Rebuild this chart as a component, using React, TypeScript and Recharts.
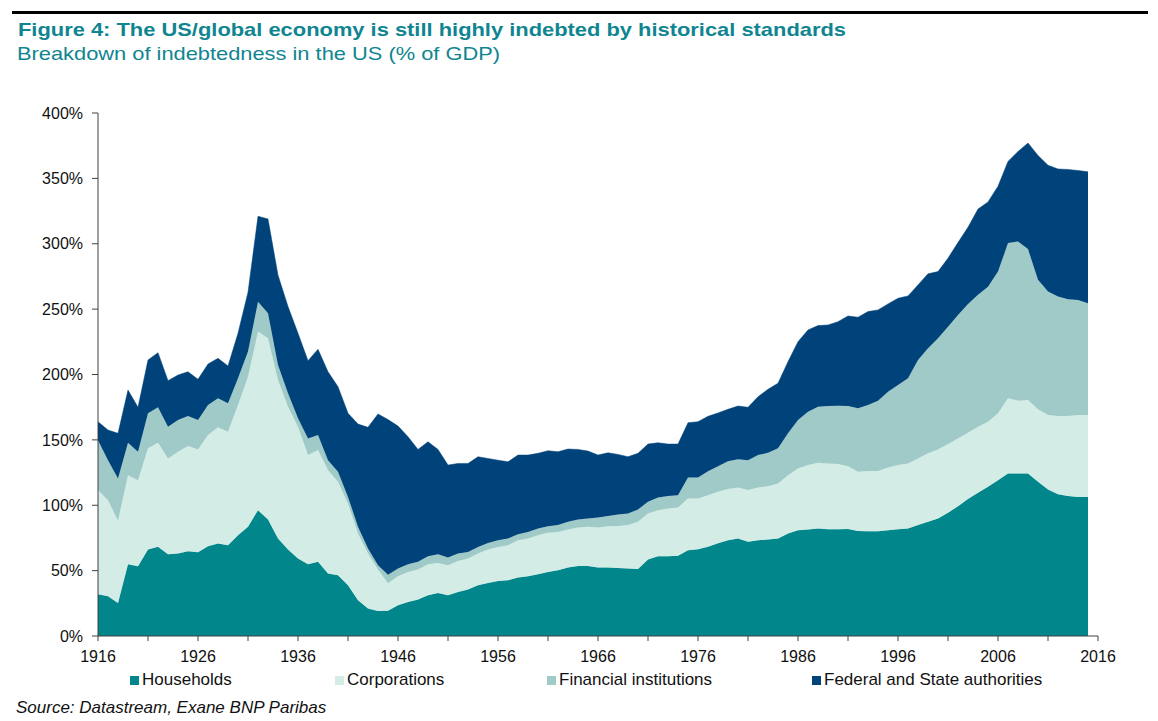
import React from 'react';
import { AreaChart, Area, XAxis, YAxis } from 'recharts';

// Values (% of GDP), one per year from 1916 to 2015
const households = [
  31.9, 30.4, 25.3, 54.9, 53.4, 66.1, 68.2, 62.6, 63.1, 64.9,
  64.1, 68.7, 70.7, 69.4, 77.1, 83.5, 96.2, 89.1, 74.6, 66.1,
  59.2, 54.9, 56.7, 47.8, 46.5, 38.8, 27.3, 21.0, 19.1, 19.4,
  23.5, 26.0, 27.9, 31.2, 32.9, 31.2, 33.7, 35.5, 38.8, 40.6,
  42.1, 42.6, 44.7, 45.7, 47.2, 49.0, 50.3, 52.4, 53.6, 53.6,
  52.4, 52.4, 52.1, 51.6, 51.3, 58.5, 61.0, 61.0, 61.3, 65.6,
  66.4, 68.2, 71.0, 73.2, 74.6, 72.0, 73.3, 73.8, 74.6, 78.4,
  80.9, 81.5, 82.2, 81.7, 81.7, 81.9, 80.4, 80.2, 80.2, 80.9,
  81.7, 82.2, 84.8, 87.3, 89.9, 94.2, 99.3, 104.7, 109.5, 114.1,
  119.2, 124.3, 124.3, 124.3, 117.9, 112.1, 108.5, 107.0, 106.4, 106.4,
];
const corporations = [
  79.7, 73.5, 62.8, 68.1, 65.8, 77.4, 79.6, 73.2, 77.8, 80.4,
  78.6, 85.0, 88.9, 86.8, 99.5, 114.8, 136.6, 138.6, 121.2, 109.2,
  100.8, 83.5, 85.5, 79.1, 71.4, 62.6, 51.1, 42.1, 31.7, 21.0,
  22.2, 23.0, 22.9, 23.7, 23.0, 22.9, 23.7, 23.8, 24.3, 25.6,
  26.0, 26.8, 28.6, 28.9, 29.9, 29.9, 29.3, 29.1, 29.4, 29.9,
  30.6, 31.6, 32.1, 33.2, 36.0, 35.2, 35.2, 36.5, 37.0, 39.6,
  38.8, 39.5, 39.3, 39.3, 39.0, 39.6, 40.3, 40.8, 42.1, 44.6,
  47.3, 49.2, 50.3, 50.3, 49.8, 48.0, 45.2, 45.9, 45.9, 48.0,
  49.0, 49.8, 51.0, 52.4, 52.8, 52.6, 51.8, 50.7, 50.5, 49.8,
  51.1, 57.5, 55.6, 56.2, 55.5, 56.9, 59.7, 61.2, 62.6, 62.6,
];
const financial = [
  38.2, 30.6, 32.4, 24.8, 21.7, 26.8, 27.1, 24.2, 24.3, 22.9,
  22.5, 22.9, 22.2, 21.8, 20.5, 19.2, 22.9, 19.2, 11.5, 10.3,
  6.5, 12.7, 11.5, 7.6, 7.7, 5.0, 5.1, 3.8, 3.3, 6.4,
  5.9, 5.9, 5.9, 6.1, 6.7, 5.9, 5.7, 5.0, 5.0, 5.0,
  5.2, 5.2, 4.6, 5.0, 5.1, 5.1, 5.2, 5.8, 6.1, 6.4,
  7.7, 7.7, 8.8, 8.9, 9.5, 8.9, 9.8, 9.5, 9.4, 16.1,
  16.1, 18.3, 19.5, 21.1, 21.5, 22.9, 24.8, 25.5, 26.8, 32.0,
  37.0, 40.8, 42.8, 43.9, 44.6, 46.0, 48.5, 50.5, 53.8, 57.9,
  61.3, 65.1, 75.3, 80.4, 85.0, 89.8, 94.5, 98.6, 100.9, 103.3,
  108.4, 118.7, 121.8, 115.4, 99.0, 94.4, 91.4, 89.4, 88.0, 85.5,
];
const federal = [
  14.1, 23.0, 34.5, 40.3, 34.0, 40.8, 41.8, 35.3, 34.4, 33.9,
  31.1, 31.4, 30.6, 28.5, 34.4, 45.5, 65.3, 72.1, 68.7, 66.4,
  65.0, 59.5, 65.6, 67.6, 65.1, 63.9, 78.6, 92.7, 115.7, 118.7,
  109.0, 97.5, 86.0, 87.5, 80.1, 70.7, 68.9, 67.7, 69.0, 64.6,
  61.2, 58.6, 60.5, 58.8, 57.5, 57.7, 56.1, 55.7, 53.6, 51.5,
  47.7, 48.4, 45.9, 43.4, 42.9, 44.2, 41.8, 39.8, 39.1, 41.8,
  42.6, 42.0, 40.8, 39.8, 40.8, 40.4, 44.6, 48.6, 49.8, 54.8,
  59.9, 62.6, 62.1, 62.0, 64.3, 68.9, 69.7, 71.5, 69.5, 67.2,
  66.3, 63.0, 57.4, 56.9, 51.0, 52.4, 55.3, 58.7, 65.6, 64.8,
  65.3, 62.5, 68.8, 81.1, 95.1, 96.6, 97.6, 99.2, 99.0, 100.5,
];
const years = households.map((_, i) => 1916 + i);

const xTicks = [1916, 1921, 1926, 1931, 1936, 1941, 1946, 1951, 1956, 1961, 1966,
  1971, 1976, 1981, 1986, 1991, 1996, 2001, 2006, 2011, 2016];
const xLabelTicks = [1916, 1926, 1936, 1946, 1956, 1966, 1976, 1986, 1996, 2006, 2016];
const yTicks = [0, 50, 100, 150, 200, 250, 300, 350, 400];

const seriesKeys = ['households', 'corporations', 'financial', 'federal'];
const seriesNames = ['Households', 'Corporations', 'Financial institutions', 'Federal and State authorities'];
const seriesColors = ['#00868B', '#D3EDE6', '#A0CAC7', '#00427A'];

const titleText = 'Figure 4: The US/global economy is still highly indebted by historical standards';
const subtitleText = 'Breakdown of indebtedness in the US (% of GDP)';
const sourceText = 'Source: Datastream, Exane BNP Paribas';

const data = years.map((year, i) => ({
  year,
  households: households[i],
  corporations: corporations[i],
  financial: financial[i],
  federal: federal[i],
}));

const FONT = '"Liberation Sans", Arial, Helvetica, sans-serif';
const TITLE_COLOR = '#0F8591';
const AXIS_COLOR = '#404040';

const legendX = [130, 335, 547, 812];

export default function App() {
  return (
    <div style={{ position: 'absolute', left: 0, top: 0, width: 1158, height: 721, background: '#fff', fontFamily: FONT }}>
      <div style={{ position: 'absolute', left: 12, top: 11, width: 1136, height: 3, background: '#000' }} />
      <svg width={1158} height={70} style={{ position: 'absolute', left: 0, top: 0 }}>
        <text x={18} y={36} fontFamily={FONT} fontSize={18.5} fontWeight="bold" fill={TITLE_COLOR}
          textLength={828} lengthAdjust="spacingAndGlyphs">{titleText}</text>
        <text x={17} y={60} fontFamily={FONT} fontSize={18.5} fill={TITLE_COLOR}
          textLength={483} lengthAdjust="spacingAndGlyphs">{subtitleText}</text>
      </svg>
      <div style={{ position: 'absolute', left: 0, top: 0 }}>
        <AreaChart width={1158} height={680} data={data}
          margin={{ top: 113, right: 60, left: 0, bottom: 0 }}>
          <XAxis dataKey="year" type="number" domain={[1916, 2016]} ticks={xTicks}
            allowDataOverflow
            tickFormatter={(v: number) => (xLabelTicks.includes(v) ? String(v) : '')}
            height={44} tickSize={5} tickMargin={10}
            stroke={AXIS_COLOR}
            tick={{ fill: '#111', fontSize: 16, fontFamily: FONT }}
            interval={0} />
          <YAxis type="number" domain={[0, 400]} ticks={yTicks} width={98}
            tickFormatter={(v: number) => `${v}%`}
            tickSize={6} tickMargin={9}
            stroke={AXIS_COLOR}
            tick={{ fill: '#111', fontSize: 16, fontFamily: FONT }}
            interval={0} />
          {seriesKeys.map((k, i) => (
            <Area key={k} type="linear" dataKey={k} name={seriesNames[i]} stackId="1"
              stroke={seriesColors[i]} strokeWidth={0.5} fill={seriesColors[i]} fillOpacity={1}
              isAnimationActive={false} dot={false} activeDot={false} />
          ))}
        </AreaChart>
      </div>
      {seriesNames.map((n, i) => (
        <div key={n} style={{ position: 'absolute', left: legendX[i], top: 670, height: 20, display: 'flex', alignItems: 'center', whiteSpace: 'nowrap' }}>
          <div style={{ width: 9, height: 9, background: seriesColors[i], marginRight: 3 }} />
          <span style={{ fontSize: 17, color: '#111', fontFamily: FONT }}>{n}</span>
        </div>
      ))}
      <div style={{ position: 'absolute', left: 16, top: 698, fontSize: 17, fontStyle: 'italic', color: '#111', fontFamily: FONT, whiteSpace: 'nowrap' }}>
        {sourceText}
      </div>
    </div>
  );
}
